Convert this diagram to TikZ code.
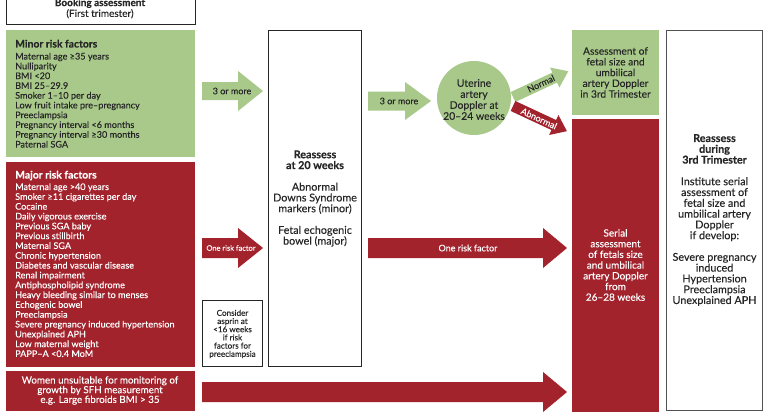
\documentclass[tikz,border=0pt]{standalone}
\usepackage{fontspec}
\setmainfont{Lato}[UprightFeatures={FakeBold=0.15}, BoldFeatures={FakeBold=0.4}]
\usetikzlibrary{fit}
\definecolor{gr}{HTML}{A9C98B}
\definecolor{rd}{HTML}{A3232D}
\definecolor{ink}{HTML}{262626}
\newcommand\barrow[7]{% color, x0, y, xbase, xtip, half body, half head
  \fill[#1] (#2,#3-#6) -- (#4,#3-#6) -- (#4,#3-#7) -- (#5,#3) -- (#4,#3+#7) -- (#4,#3+#6) -- (#2,#3+#6) -- cycle;}
\tikzset{
  wbox/.style={draw=ink, line width=0.8pt, fill=white, inner sep=0},
  gbox/.style={fill=gr, inner sep=0},
  rbox/.style={fill=rd, inner sep=0},
  txt/.style={font=\fontsize{10.8}{10.8}\selectfont, align=center, inner sep=0, text=ink},
  wtxt/.style={txt, text=white},
  item/.style={font=\fontsize{9.1}{9.8}\selectfont, anchor=base west, inner sep=0},
  ttl/.style={font=\fontsize{10.4}{11}\selectfont\bfseries, anchor=base west, inner sep=0},
  lbl/.style={font=\fontsize{9}{10}\selectfont, inner sep=0, text=ink},
  wlbl/.style={lbl, text=white},
}
\begin{document}
\begin{tikzpicture}[x=1pt,y=-1pt]
\useasboundingbox (0,0) rectangle (765,412);
\clip (0,0) rectangle (765,412);
\fill[white] (0,0) rectangle (765,412);

% boxes
\node[wbox, fit={(6,-20) (195,24.5)}] (book) {};
\node[gbox, fit={(6,30) (195,157)}] (minor) {};
\node[rbox, fit={(6,162) (195,367)}] (major) {};
\node[rbox, fit={(6,371) (195,411)}] (women) {};
\node[wbox, fit={(202.5,300.5) (262.5,366.5)}] (asp) {};
\node[wbox, fit={(268.5,30.5) (361.5,366.5)}] (re20) {};
\node[circle, fill=gr, minimum size=74, inner sep=0] (dop) at (474,98) {};
\node[gbox, fit={(572,30) (659,115)}] (assess) {};
\node[rbox, fit={(572,119) (659,412)}] (serial) {};
\node[draw=ink!80, line width=1.3pt, fill=white, inner sep=0, fit={(666.5,30.5) (762.5,410.5)}] (re3) {};

% block arrows
\barrow{gr}{202}{91}{238}{263}{9}{20}
\barrow{rd}{202}{248}{238}{263}{10}{20}
\barrow{gr}{368}{101}{405}{431}{9.5}{19}
\barrow{rd}{368}{248}{543}{567}{10}{20}
\barrow{rd}{202}{392}{543}{567}{10}{20}
\begin{scope}[rotate around={25:(513,97)}]
  \barrow{gr}{513}{97}{559}{574}{5.5}{11}
\end{scope}
\begin{scope}[rotate around={-25:(513,106)}]
  \barrow{rd}{513}{106}{558}{572.5}{5.5}{11}
\end{scope}

% texts
\node[txt, font=\fontsize{10}{10.8}\selectfont] (booktxt) at (100,8.5) {\textbf{Booking assessment}\\(First trimester)};

\node[ttl, text=ink] (minttl) at (15,47.5) {Minor risk factors};
\foreach \t [count=\i from 0] in {Maternal age ≥35 years, Nulliparity, BMI <20, BMI 25–29.9, Smoker 1–10 per day, Low fruit intake pre–pregnancy, Preeclampsia, Pregnancy interval <6 months, Pregnancy interval ≥30 months, Paternal SGA}
  \node[item, text=ink] (min\i) at (15,59.5+9.78*\i) {\t};

\node[ttl, text=white] (majttl) at (15,178.5) {Major risk factors};
\foreach \t [count=\i from 0] in {Maternal age >40 years, Smoker ≥11 cigarettes per day, Cocaine, Daily vigorous exercise, Previous SGA baby, Previous stillbirth, Maternal SGA, Chronic hypertension, Diabetes and vascular disease, Renal impairment, Antiphospholipid syndrome, Heavy bleeding similar to menses, Echogenic bowel, Preeclampsia, Severe pregnancy induced hypertension, Unexplained APH, Low maternal weight, PAPP–A <0.4 MoM}
  \node[item, text=white] (maj\i) at (15,190+9.82*\i) {\t};

\node[wtxt, font=\fontsize{9.8}{9.7}\selectfont] (womentxt) at (100,390.5) {Women unsuitable for monitoring of\\growth by SFH measurement\\e.g. Large fibroids BMI > 35};

\node[lbl] (l1) at (232,91) {3 or more};
\node[wlbl, font=\fontsize{7.5}{8}\selectfont] (l2) at (231,248) {One risk factor};
\node[txt, font=\fontsize{8.1}{8.2}\selectfont] (asptxt) at (232.5,334) {Consider\\asprin at\\<16 weeks\\if risk\\factors for\\preeclampsia};
\node[txt] (re20txt) at (315,198.5) {\textbf{Reassess}\\\textbf{at 20 weeks}\\[10.8pt]Abnormal\\Downs Syndrome\\markers (minor)\\[10.8pt]Fetal echogenic\\bowel (major)};
\node[lbl] (l3) at (399,101) {3 or more};
\node[txt, font=\fontsize{10.4}{11}\selectfont] (doptxt) at (474,99.5) {Uterine\\artery\\Doppler at\\20–24 weeks};
\node[wlbl] (l4) at (468,248) {One risk factor};
\node[lbl, rotate=25] (lnorm) at (541,83.5) {Normal};
\node[wlbl, rotate=-25] (labn) at (539,118.5) {Abnormal};
\node[txt, font=\fontsize{10.2}{10.75}\selectfont] (assesstxt) at (615.5,72.5) {Assessment of\\fetal size and\\umbilical\\artery Doppler\\in 3rd Trimester};
\node[wtxt, font=\fontsize{10}{10.7}\selectfont] (serialtxt) at (615.5,265) {Serial\\assessment\\of fetals size\\and umbilical\\artery Doppler\\from\\26–28 weeks};
\node[txt] (re3txt) at (714.5,220) {\textbf{Reassess}\\\textbf{during}\\\textbf{3rd Trimester}\\[10.8pt]Institute serial\\assessment of\\fetal size and\\umbilical artery\\Doppler\\if develop:\\[10.8pt]Severe pregnancy\\induced\\Hypertension\\Preeclampsia\\Unexplained APH};
\end{tikzpicture}
\end{document}
